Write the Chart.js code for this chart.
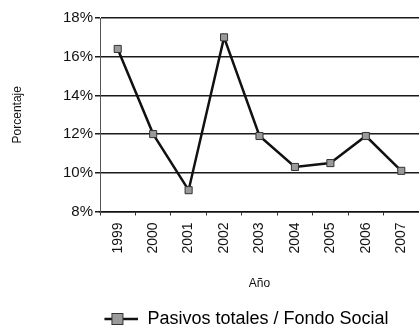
<!DOCTYPE html>
<html lang="es">
<head>
    <meta charset="UTF-8">
    <title>Pasivos totales / Fondo Social</title>
    <style>
        html, body {
            margin: 0;
            padding: 0;
            background: #ffffff;
        }
        #wrap {
            width: 419px;
            height: 329px;
            position: relative;
        }
    </style>
</head>
<body>
    <div id="wrap">
        <canvas id="ratio-chart"></canvas>
    </div>
    <script src="https://cdn.jsdelivr.net/npm/chart.js@4.4.1/dist/chart.umd.min.js"></script>
    <script>
        const years = ['1999', '2000', '2001', '2002', '2003', '2004', '2005', '2006', '2007'];
        const ratioValues = [16.4, 12.0, 9.1, 17.0, 11.9, 10.3, 10.5, 11.9, 10.1];
        const yTicks = [8, 10, 12, 14, 16, 18];
        const seriesLabel = 'Pasivos totales / Fondo Social';

        const fontFamily = '"Liberation Sans", Arial, Helvetica, sans-serif';

        // legend icon: a line with a grey square marker, Excel style.
        // the blank strip on the left pushes the legend item off-centre
        const ICON_SHIFT = 71;
        function legendIcon() {
            const c = document.createElement('canvas');
            c.width = ICON_SHIFT + 34;
            c.height = 14;
            const g = c.getContext('2d');
            g.translate(ICON_SHIFT, 0);
            g.strokeStyle = '#111';
            g.lineWidth = 2.5;
            g.beginPath();
            g.moveTo(0, 7);
            g.lineTo(34, 7);
            g.stroke();
            g.fillStyle = '#9a9a9a';
            g.fillRect(7, 1, 12, 12);
            g.strokeStyle = '#333';
            g.lineWidth = 1;
            g.strokeRect(7.5, 1.5, 11, 11);
            return c;
        }

        const ctx = document.getElementById('ratio-chart');
        new Chart(ctx, {
            type: 'line',
            data: {
                labels: years,
                datasets: [{
                    label: seriesLabel,
                    data: ratioValues,
                    borderColor: '#111',
                    borderWidth: 2.5,
                    tension: 0,
                    pointStyle: 'rect',
                    pointRadius: 5,
                    pointBackgroundColor: '#9a9a9a',
                    pointBorderColor: '#333',
                    pointBorderWidth: 1
                }]
            },
            options: {
                responsive: true,
                maintainAspectRatio: false,
                animation: false,
                layout: {
                    autoPadding: false,
                    padding: { top: 18, right: -3, left: 0, bottom: -9 }
                },
                scales: {
                    x: {
                        offset: true,
                        afterFit: (scale) => {
                            // no extra room for the rotated end labels
                            scale.paddingLeft = 0;
                            scale.paddingRight = 0;
                        },
                        grid: {
                            offset: true,
                            drawOnChartArea: false,
                            tickLength: 4,
                            color: '#333'
                        },
                        border: { display: true, color: '#111', width: 1.5 },
                        ticks: {
                            minRotation: 90,
                            maxRotation: 90,
                            autoSkip: false,
                            color: '#111',
                            padding: 7,
                            font: { family: fontFamily, size: 14 }
                        },
                        title: {
                            display: true,
                            text: 'Año',
                            color: '#111',
                            padding: { top: 16, bottom: 17 },
                            font: { family: fontFamily, size: 12 }
                        }
                    },
                    y: {
                        min: 8,
                        max: 18,
                        afterBuildTicks: (scale) => {
                            scale.ticks = yTicks.map(v => ({ value: v }));
                        },
                        afterFit: (scale) => {
                            scale.width = 100;
                        },
                        grid: {
                            color: '#1a1a1a',
                            lineWidth: 1.5,
                            tickLength: 5
                        },
                        border: { display: true, color: '#555', width: 1 },
                        ticks: {
                            color: '#111',
                            padding: 2,
                            font: { family: fontFamily, size: 15 },
                            callback: (v) => v + '%'
                        },
                        title: {
                            display: true,
                            text: 'Porcentaje',
                            color: '#111',
                            padding: { top: 10, bottom: 0 },
                            font: { family: fontFamily, size: 12 }
                        }
                    }
                },
                plugins: {
                    legend: {
                        position: 'bottom',
                        labels: {
                            usePointStyle: true,
                            pointStyleWidth: ICON_SHIFT + 34,
                            boxHeight: 14,
                            color: '#111',
                            padding: 2,
                            font: { family: fontFamily, size: 18 },
                            generateLabels: (chart) => [{
                                text: seriesLabel,
                                pointStyle: legendIcon(),
                                fillStyle: '#9a9a9a',
                                strokeStyle: '#111',
                                lineWidth: 0,
                                datasetIndex: 0
                            }]
                        }
                    },
                    tooltip: { enabled: false }
                }
            }
        });
    </script>
</body>
</html>
